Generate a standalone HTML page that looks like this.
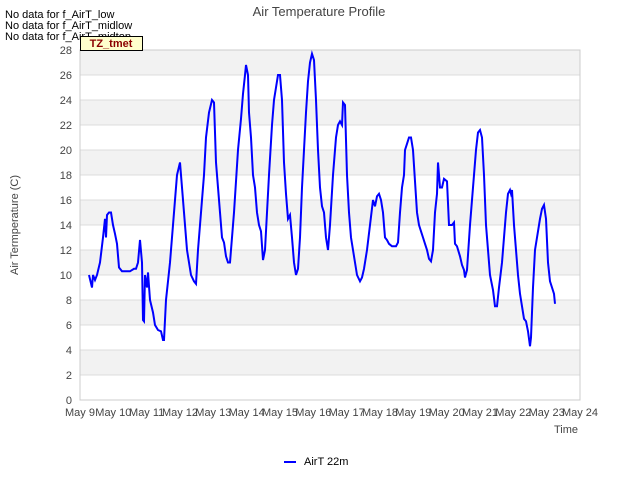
<!DOCTYPE html>
<html><head><meta charset="utf-8"><style>
body{margin:0;background:#fff;font-family:"Liberation Sans",sans-serif}
svg text{font-family:"Liberation Sans",sans-serif}
</style></head><body>
<svg id="chart" width="640" height="480" xmlns="http://www.w3.org/2000/svg">
<rect width="640" height="480" fill="#fff"/>
<g id="bands"></g><g id="grid"></g><g id="xticks"></g><g id="yticks"></g>
<rect x="80" y="50" width="500" height="350" fill="none" stroke="#ccc"/>
<path id="series" fill="none" stroke="#0000ff" stroke-width="2"/>
<text x="319" y="16" text-anchor="middle" font-size="13" fill="#444">Air Temperature Profile</text>
<text x="5" y="18" font-size="11" fill="#000">No data for f_AirT_low</text>
<text x="5" y="29" font-size="11" fill="#000">No data for f_AirT_midlow</text>
<text x="5" y="40" font-size="11" fill="#000">No data for f_AirT_midtop</text>
<rect x="80.5" y="36.5" width="62" height="14" fill="#ffffcc" stroke="#000"/>
<text x="111" y="47" text-anchor="middle" font-size="11" font-weight="bold" fill="#8b0000">TZ_tmet</text>
<text x="18" y="225" text-anchor="middle" font-size="11" fill="#444" transform="rotate(-90 18 225)">Air Termperature (C)</text>
<text x="578" y="433" text-anchor="end" font-size="11" fill="#444">Time</text>
<line x1="284" y1="462" x2="296" y2="462" stroke="#0000ff" stroke-width="2"/>
<text x="304" y="465" font-size="11" fill="#000">AirT 22m</text>
</svg>
<script>
const xLabels=["May 9","May 10","May 11","May 12","May 13","May 14","May 15","May 16","May 17","May 18","May 19","May 20","May 21","May 22","May 23","May 24"];
const yTicks=[0,2,4,6,8,10,12,14,16,18,20,22,24,26,28];
const days=[.27,.36,.39,.45,.51,.60,.69,.75,.78,.81,.87,.93,.99,1.05,1.11,1.17,1.26,1.38,1.50,1.62,1.68,1.74,1.80,1.86,1.89,1.92,1.95,2.01,2.04,2.10,2.19,2.25,2.34,2.43,2.49,2.52,2.58,2.64,2.70,2.79,2.85,2.91,3.00,3.06,3.12,3.21,3.27,3.33,3.42,3.48,3.54,3.60,3.66,3.72,3.78,3.87,3.96,4.02,4.08,4.14,4.20,4.26,4.32,4.38,4.44,4.50,4.56,4.62,4.68,4.74,4.83,4.89,4.95,4.98,5.04,5.07,5.13,5.19,5.25,5.31,5.37,5.43,5.49,5.55,5.61,5.67,5.76,5.82,5.88,5.94,6.00,6.06,6.12,6.18,6.24,6.30,6.36,6.42,6.48,6.54,6.60,6.66,6.72,6.78,6.84,6.90,6.96,7.02,7.08,7.14,7.20,7.26,7.32,7.38,7.44,7.50,7.59,7.68,7.74,7.80,7.86,7.89,7.95,8.01,8.07,8.13,8.19,8.25,8.31,8.40,8.46,8.52,8.61,8.70,8.79,8.85,8.91,8.97,9.03,9.09,9.15,9.21,9.27,9.36,9.48,9.54,9.60,9.66,9.72,9.75,9.81,9.87,9.93,9.99,10.05,10.11,10.17,10.23,10.29,10.35,10.41,10.47,10.53,10.59,10.65,10.71,10.74,10.77,10.80,10.86,10.92,11.01,11.07,11.16,11.22,11.25,11.31,11.40,11.46,11.52,11.55,11.61,11.70,11.76,11.82,11.88,11.94,12.00,12.06,12.12,12.18,12.24,12.30,12.39,12.45,12.51,12.57,12.66,12.72,12.78,12.84,12.90,12.93,12.96,13.02,13.08,13.14,13.20,13.26,13.32,13.38,13.44,13.50,13.53,13.59,13.65,13.71,13.74,13.80,13.86,13.92,13.98,14.04,14.10,14.16,14.22,14.25];
const temps=[10,9,10,9.6,10,11,13,14.5,13,14.8,15,15,14,13.3,12.5,10.6,10.3,10.3,10.3,10.5,10.5,11,12.8,11,6.4,6.3,10,9,10.2,8,7,6,5.6,5.5,4.8,4.8,8,9.5,11,14,16,18,19,17,15,12,11,10,9.5,9.3,12,14,16,18,21,23,24,23.8,19,17,15,13,12.6,11.5,11,11,13,15,17.5,20,22.5,24.5,26,26.8,26,23,21,18,17,15,14,13.5,11.2,12,15,18,22,24,25,26,26,24,19,16.5,14.5,14.8,13,11,10,10.5,13,17,20,23,25.5,27,27.7,27.2,24,20,17,15.5,15,13,12,14,18,21,22,22.3,22,23.8,23.6,18,15,13,12,11,10,9.5,9.8,10.5,12,14,16,15.5,16.3,16.5,16,15,13,12.8,12.5,12.3,12.3,12.6,15,17,18,20,20.5,21,21,20,17.5,15,14,13.5,13,12.5,12,11.3,11.1,12,15,16.5,19,18,17,17,17.7,17.5,14,14,14.2,12.5,12.3,11.5,10.8,10.4,9.8,10.4,14,16,18,20,21.4,21.6,21,18,14,12,10,8.8,7.5,7.5,9,11,13,15,16.5,16.8,16.5,16.8,14,12,10,8.5,7.5,6.5,6.3,5.5,4.3,5,9,12,13,13.5,14.5,15.3,15.6,14.5,11,9.5,9,8.5,7.7];
const X0=80,X1=580,Y0=400,Y1=50,NS="http://www.w3.org/2000/svg";
const xs=d=>X0+d*(X1-X0)/(xLabels.length-1);
const ys=v=>Y0-v*(Y0-Y1)/28;
function mk(tag,attrs,parent){const e=document.createElementNS(NS,tag);for(const k in attrs)e.setAttribute(k,attrs[k]);document.getElementById(parent).appendChild(e);return e;}
for(let i=0;i<yTicks.length-1;i++){
  if(i%2===1){const r=mk('rect',{x:X0,y:ys(yTicks[i+1]),width:X1-X0,height:ys(yTicks[i])-ys(yTicks[i+1]),fill:'#f2f2f2'},'bands');
  
  }
}
yTicks.forEach(v=>{
  const l=mk('line',{x1:X0,x2:X1,y1:ys(v),y2:ys(v),stroke:'#dcdcdc'},'grid');
  
  
  const t=mk('text',{x:X0-8,y:ys(v)+4,'text-anchor':'end','font-size':11,fill:'#444'},'yticks');
  t.textContent=v;
  
  
});
xLabels.forEach((s,i)=>{
  const t=mk('text',{x:xs(i),y:416,'text-anchor':'middle','font-size':11,fill:'#444'},'xticks');
  t.textContent=s;
  
  
});
document.getElementById('series').setAttribute('d',days.map((d,i)=>(i?'L':'M')+xs(d).toFixed(1)+' '+ys(temps[i]).toFixed(1)).join(' '));
</script>
</body></html>
